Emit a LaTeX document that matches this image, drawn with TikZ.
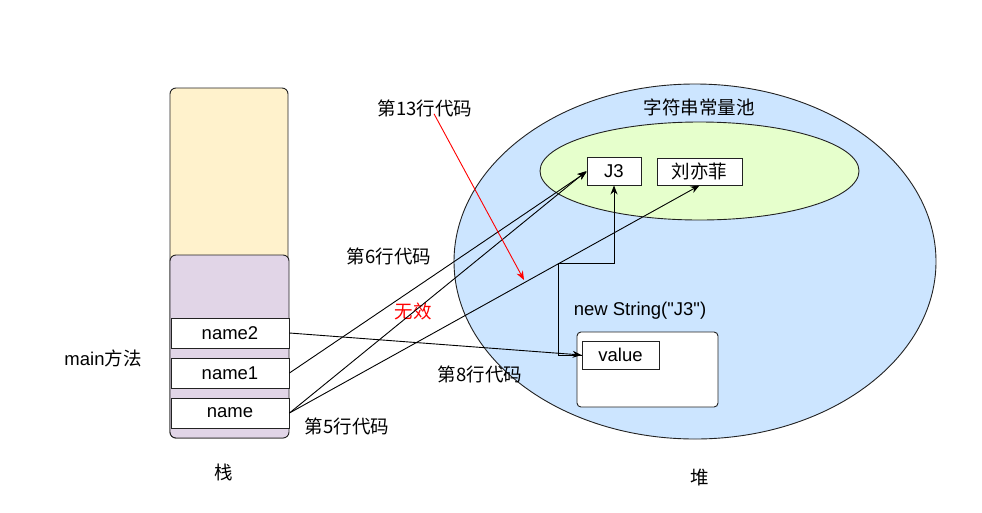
\documentclass[tikz,border=0pt]{standalone}
\usepackage{fontspec}
\setmainfont{Liberation Sans}
\newfontfamily\cjk{Noto Sans CJK SC}
\usetikzlibrary{shapes.geometric,arrows.meta}

\definecolor{stackyellow}{HTML}{FFF2CC}
\definecolor{framepurple}{HTML}{E1D5E7}
\definecolor{heapblue}{HTML}{CCE5FF}
\definecolor{poolgreen}{HTML}{E6FFCC}
\definecolor{edgegray}{HTML}{222222}

\tikzset{
	txt/.style={font=\fontsize{18.5}{22}\selectfont, inner sep=0pt},
	cell/.style={draw=edgegray, line width=0.9pt, fill=white, inner sep=0pt, txt},
	ref/.style={->, draw=black, line width=0.9pt},
}

\begin{document}
\begin{tikzpicture}[x=1pt,y=-1pt,line cap=butt,line join=miter,>={Stealth[length=9pt,width=7pt]}]
	\useasboundingbox (0,0) rectangle (982,512);

	% stack side
	\node[draw=edgegray, line width=0.9pt, fill=stackyellow, rounded corners=6pt, minimum width=118pt, minimum height=350pt] (stack) at (229,263) {};
	\node[draw=edgegray, line width=0.9pt, fill=framepurple, rounded corners=6pt, minimum width=119pt, minimum height=183pt] (frame) at (229.5,346.5) {};
	\node[cell, minimum width=118pt, minimum height=30pt] (name2) at (230,333) {name2};
	\node[cell, minimum width=118pt, minimum height=30pt] (name1) at (230,373) {name1};
	\node[cell, minimum width=118pt, minimum height=30pt] (name) at (230,413) {name};
	\node[txt] (mainlbl) at (103,358) {main{\cjk 方法}};
	\node[txt] (stacklbl) at (224,472) {\cjk 栈};

	% heap side
	\node[draw=edgegray, line width=0.9pt, fill=heapblue, ellipse, inner sep=0pt, minimum width=482pt, minimum height=355pt] (heap) at (695,261.5) {};
	\node[draw=edgegray, line width=0.9pt, fill=poolgreen, ellipse, inner sep=0pt, minimum width=319pt, minimum height=98pt] (pool) at (699.5,171) {};
	\node[txt] (poollbl) at (699,107) {\cjk 字符串常量池};
	\node[cell, minimum width=54pt, minimum height=28pt] (j3) at (614,171) {J3};
	\node[cell, minimum width=85pt, minimum height=27pt] (liu) at (699.5,171.5) {\cjk 刘亦菲};
	\node[txt] (newlbl) at (640,311) {new String(\textquotedbl J3\textquotedbl)};
	\node[draw=edgegray, line width=0.9pt, fill=white, rounded corners=4pt, minimum width=141pt, minimum height=75pt] (obj) at (647.5,369.5) {};
	\node[cell, minimum width=77pt, minimum height=28pt] (value) at (620.5,355) {value};
	\node[txt] (heaplbl) at (700,478) {\cjk 堆};

	% code line labels
	\node[txt] (l13) at (425,108) {\cjk 第13行代码};
	\node[txt] (l6) at (389,256) {\cjk 第6行代码};
	\node[txt, text=red] (invalid) at (413,311) {\cjk 无效};
	\node[txt] (l8) at (480,374) {\cjk 第8行代码};
	\node[txt] (l5) at (347,426) {\cjk 第5行代码};

	\coordinate (bend) at (558,263);
	\coordinate (hit) at (524,280);

	\draw[ref] (name.east) -- (j3.west);
	\draw[ref] (name1.east) -- ([yshift=-1pt]j3.west);
	\draw[ref] (name.east) -- (liu.south);
	\draw[ref] (name2.east) -- (value.west);
	\draw[ref] (value.west) -| (bend) -| (j3.south);
	\draw[->, red, line width=0.9pt] ([xshift=9pt,yshift=3pt]l13.south) -- (hit);
\end{tikzpicture}
\end{document}
